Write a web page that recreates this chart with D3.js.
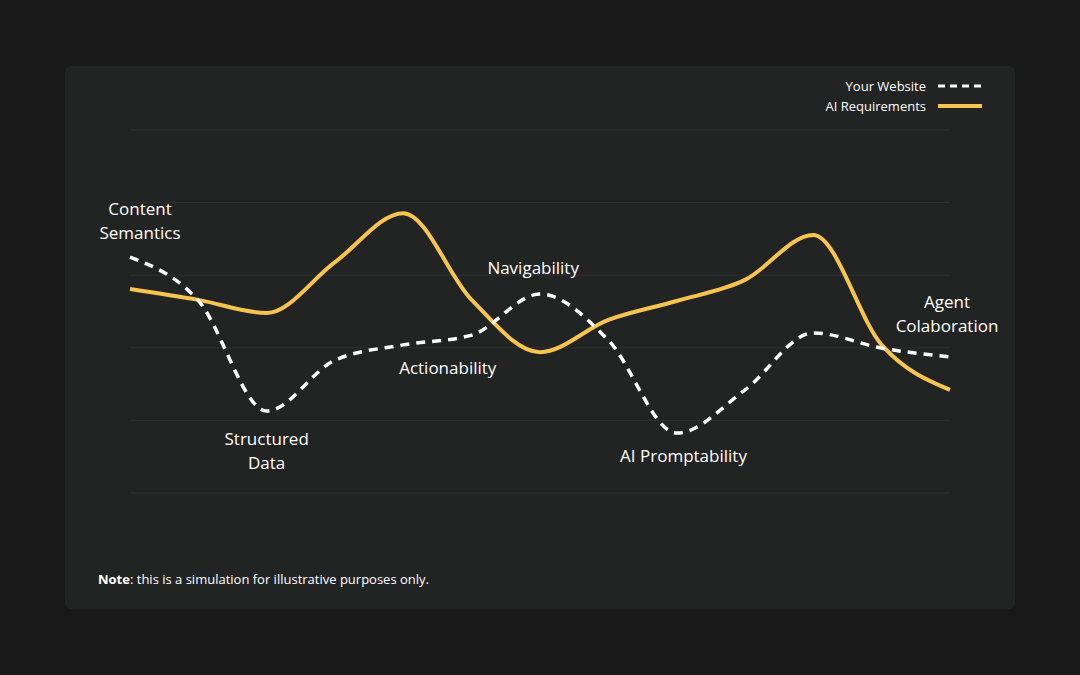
<!DOCTYPE html>
<html><head><meta charset="utf-8">
<script src="https://cdn.jsdelivr.net/npm/d3@7"></script>
<style>body{margin:0;background:#191919;}svg{display:block;font-family:"Open Sans",sans-serif;}</style>
</head><body><svg id="c" width="1080" height="675"></svg>
<script>
const steps = d3.range(13);
const yourWebsite = [65,53,22.6,36.6,40.8,43.5,54.8,42.1,16.5,28.4,44.1,39.9,37.5];
const aiRequirements = [56.2,53.2,49.6,63.6,77.1,53.2,38.8,47.7,52.9,58.7,71.1,40.8,28.4];
const categories = ["Content\nSemantics","Structured\nData","Actionability","Navigability","AI Promptability","Agent\nColaboration"];
const catPos = [[0,0,221],[2,0,451],[4.65,0,368],[5.9,0,268],[8.1,0,456],[12,0,314]];
const gridVals = [0,20,40,60,80,100];

const svg = d3.select("#c");
svg.append("rect").attr("x",65).attr("y",66).attr("width",950).attr("height",543).attr("rx",6).attr("fill","#222323");
const x = d3.scaleLinear().domain([0,12]).range([130,950]);
const y = d3.scaleLinear().domain([0,100]).range([493,130]);
svg.append("g").selectAll("line").data(gridVals).join("line")
  .attr("x1",130).attr("x2",950).attr("y1",d=>y(d)).attr("y2",d=>y(d))
  .attr("stroke","#2f3030").attr("stroke-width",1);
const line = d3.line().x((d,i)=>x(i)).y(d=>y(d)).curve(d3.curveMonotoneX);
svg.append("path").attr("d",line(aiRequirements)).attr("fill","none").attr("stroke","#f7c44f").attr("stroke-width",4);
svg.append("path").attr("d",line(yourWebsite)).attr("fill","none").attr("stroke","#fff").attr("stroke-width",3.5).attr("stroke-dasharray","9,7");
const lbl = svg.append("g").attr("fill","#fff").attr("font-size",17).attr("text-anchor","middle");
categories.forEach((c,i)=>{
  const lines=c.split("\n"); const p=catPos[i];
  const t=lbl.append("text").attr("x",x(p[0])+(i===0?10:i===5?-3:0)).attr("y",p[2]-(lines.length-1)*12+6);
  lines.forEach((s,j)=>t.append("tspan").attr("x",x(p[0])+(i===0?10:i===5?-3:0)).attr("dy",j?24:0).text(s));
});
const leg = svg.append("g").attr("font-size",13).attr("fill","#fff");
[["Your Website",true],["AI Requirements",false]].forEach((d,i)=>{
  const yy=86+i*20;
  leg.append("text").attr("x",926).attr("y",yy+5).attr("text-anchor","end").text(d[0]);
  leg.append("line").attr("x1",938).attr("x2",982).attr("y1",yy).attr("y2",yy)
   .attr("stroke",d[1]?"#fff":"#f7c44f").attr("stroke-width",d[1]?3:4).attr("stroke-dasharray",d[1]?"7,5":null);
});
const note=svg.append("text").attr("x",98).attr("y",584).attr("font-size",13).attr("fill","#fff");
note.append("tspan").attr("font-weight","bold").text("Note");
note.append("tspan").text(": this is a simulation for illustrative purposes only.");
</script></body></html>
